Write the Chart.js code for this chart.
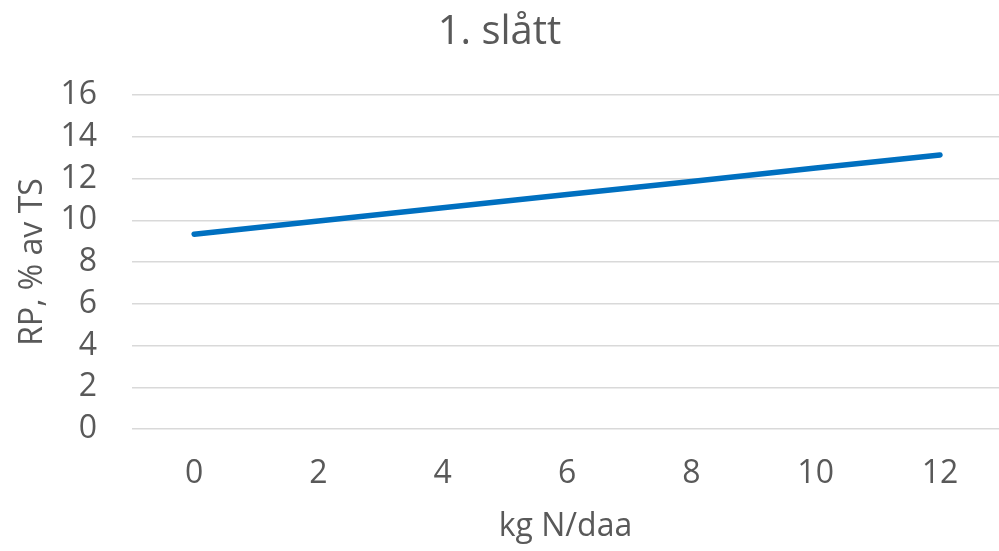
<!DOCTYPE html>
<html>
<head>
<meta charset="utf-8">
<script src="https://cdn.jsdelivr.net/npm/chart.js@4/dist/chart.umd.min.js"></script>
<style>
html,body{margin:0;padding:0;background:#fff;}
#wrap{width:999px;height:551px;position:relative;}
</style>
</head>
<body>
<div id="wrap"><canvas id="c" width="999" height="551"></canvas></div>
<script>
const chartTitle = "1. slått";
const xAxisTitle = "kg N/daa";
const yAxisTitle = "RP, % av TS";
const nitrogen = [0, 2, 4, 6, 8, 10, 12];
const rpValues = [9.33, 9.96, 10.6, 11.23, 11.86, 12.5, 13.13];
const xTicks = [0, 2, 4, 6, 8, 10, 12];
const yTicks = [0, 2, 4, 6, 8, 10, 12, 14, 16];

const points = nitrogen.map((x, i) => ({x: x, y: rpValues[i]}));
const txt = '#595959';
const fam = '"Open Sans", "Liberation Sans", sans-serif';

new Chart(document.getElementById('c'), {
  type: 'line',
  data: {
    datasets: [{
      data: points,
      borderColor: '#0070C0',
      borderWidth: 5.5,
      borderCapStyle: 'round',
      pointRadius: 0,
      tension: 0,
      fill: false
    }]
  },
  options: {
    responsive: false,
    animation: false,
    layout: {padding: {left: 0, right: 0, top: 0, bottom: 0}},
    plugins: {
      legend: {display: false},
      tooltip: {enabled: false},
      title: {
        display: true,
        text: chartTitle,
        color: txt,
        font: {family: fam, size: 40, weight: 'normal'},
        padding: {top: 9, bottom: 38}
      }
    },
    scales: {
      x: {
        type: 'linear',
        min: -1,
        max: 12.95,
        afterBuildTicks: s => { s.ticks = xTicks.map(v => ({value: v})); },
        afterFit: s => { s.height = 122; },
        grid: {display: false, drawTicks: false},
        border: {display: false},
        ticks: {color: txt, font: {family: fam, size: 32}, padding: 26, maxRotation: 0},
        title: {display: true, text: xAxisTitle, color: txt, font: {family: fam, size: 32}, padding: {top: 0, bottom: 5}}
      },
      y: {
        type: 'linear',
        min: 0,
        max: 16,
        afterBuildTicks: s => { s.ticks = yTicks.map(v => ({value: v})); },
        afterFit: s => { s.width = 132; },
        grid: {color: '#d9d9d9', lineWidth: 1.5, drawTicks: false},
        border: {display: false},
        ticks: {color: txt, font: {family: fam, size: 32}, padding: 35},
        title: {display: true, text: yAxisTitle, color: txt, font: {family: fam, size: 32}, padding: {top: 14, bottom: 0}}
      }
    }
  }
});
</script>
</body>
</html>
